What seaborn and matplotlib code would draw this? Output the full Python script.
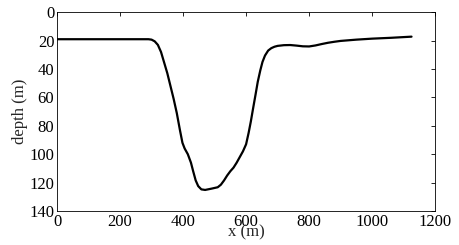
import numpy as np
import pandas as pd
import matplotlib
matplotlib.use("Agg")
import matplotlib.pyplot as plt
import seaborn as sns

# bathymetry profile
x_m = [0, 100, 200, 290, 300, 310, 320, 330, 340, 350, 360, 370, 380, 390,
       398, 405, 415, 425, 432, 440, 448, 458, 470, 490, 510, 520, 530, 540,
       550, 560, 570, 580, 590, 600, 608, 615, 622, 630, 637, 645, 652, 660,
       670, 680, 690, 700, 720, 740, 760, 780, 800, 820, 840, 860, 880, 900,
       950, 1000, 1060, 1125]
depth_m = [19, 19, 19, 19, 19.3, 20.5, 23, 28, 35.5, 43, 52, 61, 71, 83,
           92, 96, 100, 106, 112, 118.5, 122.5, 124.8, 125.2, 124.3, 123.3, 121.5, 118.5, 115,
           112, 109.5, 106, 102, 98, 93, 85, 77, 68, 58, 49, 41, 35, 30.5,
           27, 25.3, 24.3, 23.7, 23.2, 23.1, 23.5, 24, 24.1, 23.4, 22.4, 21.5, 20.8, 20.2,
           19.3, 18.6, 18, 17.2]

df = pd.DataFrame({"x": x_m, "depth": depth_m})

sns.set_style("white")
plt.rcParams["font.family"] = ["Liberation Serif", "DejaVu Serif"]

fig = plt.figure(figsize=(4.6, 2.45), dpi=100)
ax = fig.add_axes([0.124, 0.139, 0.822, 0.811])
sns.lineplot(data=df, x="x", y="depth", ax=ax, color="black", linewidth=1.6)

ax.set_xlim(0, 1200)
ax.set_ylim(140, 0)
ax.set_xticks(np.arange(0, 1201, 200))
ax.set_yticks(np.arange(0, 141, 20))
ax.tick_params(direction="in", top=True, right=True, length=3, width=0.6,
               labelsize=12, colors="black", pad=2)
for s in ax.spines.values():
    s.set_linewidth(0.6)
    s.set_color("black")
ax.set_xlabel("x (m)", fontsize=12, labelpad=-4)
ax.set_ylabel("depth (m)", fontsize=12, labelpad=1)

fig.savefig("out.png", dpi=100)
